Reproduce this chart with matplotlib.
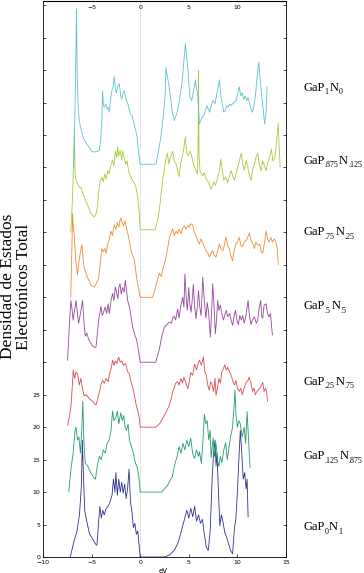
import matplotlib
matplotlib.use('Agg')
import matplotlib.pyplot as plt

# density of states (eV, states) - each curve is later shifted up by 10
e_n1 = [-7.2, -6.8, -6.5, -6.25, -6.05, -5.95, -5.85, -5.7, -5.5, -5.2, -4.9, -4.6, -4.45, -4.3, -4.15, -4.0,
        -3.85, -3.7, -3.5, -3.3, -3.1, -2.9, -2.75, -2.6, -2.5, -2.35, -2.2, -2.05, -1.9, -1.75, -1.6, -1.45,
        -1.3, -1.15, -1.0, -0.85, -0.7, -0.55, -0.4, -0.25, -0.1, 0.0,
        2.5, 3.0, 3.5, 3.9, 4.2, 4.5, 4.8, 5.0, 5.2, 5.4, 5.6, 5.8, 6.0, 6.2, 6.4, 6.6, 6.8, 7.0, 7.2, 7.4,
        7.55, 7.7, 7.8, 7.9, 8.05, 8.2, 8.35, 8.5, 8.7, 8.9, 9.1, 9.3, 9.5, 9.7, 9.85, 10.0, 10.15, 10.3,
        10.45, 10.6, 10.75, 10.9, 11.0, 11.1]
dos_n1 = [0, 2.5, 4, 6.5, 11, 18, 13, 7, 5.5, 3.5, 2.8, 2.0, 1.8, 5, 7.8, 6.0,
          7.2, 6.5, 7.5, 7.8, 8.5, 9.5, 12, 10, 13, 9.5, 12, 10, 11.5, 9.8, 11.2, 9,
          10.5, 13.5, 8.5, 7, 4.5, 5.2, 3.5, 4, 1.5, 0,
          0, 0.3, 1.0, 2.2, 3.8, 5.5, 7.2, 6.0, 7.5, 6.2, 7.8, 5.5, 6.5, 5.2, 5.8, 3.5, 1.5, 1.0, 4, 12,
          16, 18, 14, 16, 10, 4.8, 6.5, 5.5, 3.8, 3.0, 2.0, 1.0, 0.5, 4.5, 6, 10, 15, 19.5,
          16, 12, 13, 10.5, 12, 6.2]

e_n875 = [-7.35, -7.1, -6.9, -6.7, -6.6, -6.45, -6.3, -6.15, -6.0, -5.9, -5.8, -5.65, -5.4, -5.1, -4.8, -4.6,
          -4.4, -4.2, -4.0, -3.8, -3.6, -3.4, -3.2, -3.0, -2.85, -2.7, -2.5, -2.35, -2.2, -2.0, -1.85, -1.7,
          -1.55, -1.4, -1.25, -1.1, -0.9, -0.7, -0.5, -0.3, -0.15, 0.0,
          2.2, 2.8, 3.3, 3.6, 3.8, 4.0, 4.2, 4.4, 4.6, 4.8, 5.0, 5.2, 5.4, 5.6, 5.8, 6.0, 6.1, 6.3, 6.5, 6.6,
          6.75, 6.9, 7.05, 7.2, 7.3, 7.5, 7.65, 7.8, 7.95, 8.1, 8.25, 8.4, 8.6, 8.8, 8.95, 9.1, 9.3, 9.5,
          9.65, 9.75, 9.85, 10.0, 10.15, 10.3, 10.5, 10.7, 10.85, 11.0, 11.15, 11.3]
dos_n875 = [0, 3.9, 6, 9.5, 10, 8, 8.5, 6, 10, 14, 8, 4.5, 4.0, 3.0, 2.3, 2.0,
            4.2, 5.5, 5.0, 6.5, 6.0, 7.5, 8.0, 9.5, 12.5, 11, 11.5, 12.5, 10.5, 12.2, 11, 11.8,
            10, 9.5, 10.5, 8, 7, 6, 4.5, 3.8, 2.5, 0,
            0, 1.0, 2.4, 4.5, 5.5, 7.0, 6.0, 7.5, 6.5, 8.0, 7.0, 8.3, 5.9, 5.2, 6.5, 5.5, 6.2, 4.4, 9, 12,
            10.5, 11, 8, 9.5, 5.3, 8.3, 5.5, 7.5, 5, 3.9, 5.5, 4.5, 6.5, 7.6, 5, 6.5, 8.5, 10,
            13, 15.7, 12, 10, 11, 10.5, 8.5, 10, 7.5, 12.4, 8, 3.8]

e_n75 = [-7.47, -7.3, -7.13, -7.0, -6.89, -6.75, -6.6, -6.44, -6.27, -6.1, -5.95, -5.76, -5.55, -5.3, -5.1, -4.9,
         -4.7, -4.55, -4.4, -4.2, -4.05, -3.87, -3.7, -3.5, -3.3, -3.15, -3.0, -2.84, -2.7, -2.55, -2.4, -2.22,
         -2.05, -1.9, -1.7, -1.5, -1.3, -1.13, -0.95, -0.78, -0.6, -0.44, -0.25, -0.1, 0.0,
         1.6, 1.97, 2.3, 2.65, 2.95, 3.2, 3.35, 3.5, 3.65, 3.85, 4.0, 4.2, 4.35, 4.5, 4.7, 4.9, 5.05, 5.2,
         5.4, 5.6, 5.8, 5.95, 6.1, 6.3, 6.5, 6.65, 6.8, 6.95, 7.1, 7.25, 7.4, 7.55, 7.7, 7.8, 7.95, 8.1,
         8.25, 8.4, 8.55, 8.7, 8.85, 9.0, 9.2, 9.4, 9.55, 9.7, 9.85, 10.0, 10.2, 10.35, 10.5, 10.65, 10.8,
         10.95, 11.1, 11.2, 11.4, 11.55, 11.7, 11.85, 12.0, 12.2, 12.4, 12.6, 12.75, 12.9, 13.0, 13.1]
dos_n75 = [0.3, 1.5, 3.1, 6, 8.8, 7.5, 8.5, 8.2, 6.5, 7.5, 6.0, 4.8, 5, 4.5, 4.2, 4.0,
           3.6, 3.4, 4.2, 5.4, 6.5, 7.2, 6.8, 7.5, 7.0, 8.2, 9.0, 10.3, 9.5, 10.2, 9.8, 10.8,
           10, 10.2, 9.5, 9.8, 8.5, 8.3, 7, 6.2, 5, 3.6, 2.5, 1.5, 0,
           0, 0.5, 1.3, 2.3, 3.2, 4.4, 5.5, 6.0, 6.8, 7.0, 6.5, 7.5, 6.8, 7.7, 6.8, 5.9, 7, 8.4,
           8.0, 9.7, 8.8, 9.8, 10.3, 9.5, 10.8, 8.5, 8.0, 6.5, 5.7, 7.0, 6.5, 5.5, 7.5, 4.9, 6.0, 7.5,
           6.8, 8.5, 9.0, 9.6, 8.8, 9.2, 8.5, 7.8, 7.0, 6.5, 7.2, 6.0, 5.5, 6.0, 5.0, 5.8, 6.5,
           7.0, 7.2, 7.7, 6.8, 5.5, 6.0, 5.0, 5.5, 5.8, 6.2, 6.9, 5.5, 6.0, 5.5, 4.0]

e_n5 = [-7.47, -7.38, -7.3, -7.2, -7.13, -7.0, -6.9, -6.75, -6.6, -6.45, -6.34, -6.15, -5.93, -5.8, -5.65, -5.5,
        -5.3, -5.1, -4.9, -4.7, -4.55, -4.4, -4.28, -4.15, -4.04, -3.9, -3.75, -3.6, -3.45, -3.3, -3.18, -3.0,
        -2.84, -2.7, -2.56, -2.4, -2.3, -2.2, -2.08, -1.95, -1.8, -1.65, -1.54, -1.4, -1.29, -1.1, -0.95,
        -0.78, -0.6, -0.45, -0.37, -0.2, 0.0,
        1.6, 1.97, 2.2, 2.48, 2.75, 3.0, 3.2, 3.35, 3.5, 3.65, 3.85, 4.0, 4.15, 4.37, 4.5, 4.6, 4.75, 4.85,
        5.0, 5.1, 5.23, 5.35, 5.47, 5.6, 5.74, 5.87, 6.0, 6.13, 6.26, 6.35, 6.43, 6.6, 6.75, 6.9, 7.05, 7.22,
        7.35, 7.46, 7.6, 7.73, 7.85, 7.97, 8.1, 8.25, 8.4, 8.56, 8.7, 8.85, 9.0, 9.2, 9.35, 9.5, 9.65, 9.8,
        9.95, 10.1, 10.25, 10.4, 10.55, 10.7, 10.85, 11.1, 11.25, 11.4, 11.55, 11.75, 11.95, 12.1, 12.25,
        12.4, 12.5, 12.6, 12.75, 12.95, 13.1, 13.25, 13.4, 13.6]
dos_n5 = [0.3, 3, 5.5, 8, 9.5, 8, 6.5, 8, 9.5, 7.5, 6, 7.5, 9.5, 6.5, 4, 4.5,
          3.5, 3.0, 2.5, 2.3, 2.3, 4.5, 6.5, 7.5, 8.6, 7.2, 7.8, 8.5, 7.5, 9, 7.5, 9.5,
          10.6, 9.5, 11.6, 10.5, 9.8, 11.5, 12.1, 10.5, 11.5, 10.8, 12.6, 11, 9.5, 8.5, 7,
          5.5, 4.4, 3.8, 3.4, 2, 0,
          0, 2, 3.8, 5.4, 5.8, 6.2, 6.0, 6.8, 7.1, 6.5, 8.2, 6.8, 8.5, 10, 8.5, 13.6, 9.5, 8.0,
          11.5, 9, 7.7, 9.5, 12, 8.5, 6.7, 8.5, 11, 8.5, 7.2, 10, 13.1, 9.5, 6.8, 9.2, 7.5, 3.9,
          8, 12.1, 8.5, 4.4, 6.5, 9.5, 8.0, 8.8, 7.5, 6.5, 7.2, 8.0, 7.0, 7.5, 6.5, 5.7, 7.0, 8.0,
          6.5, 5.8, 7.2, 6.5, 7.2, 6.0, 7.0, 9.5, 7.0, 5.8, 6.5, 7.0, 6.0, 6.5, 8.5,
          9.5, 7.0, 6.8, 8.8, 9.0, 7.5, 7.0, 7.5, 4.2]

e_n25 = [-7.15, -7.05, -6.96, -6.88, -6.79, -6.65, -6.45, -6.3, -6.15, -6.0, -5.88, -5.76, -5.6, -5.41, -5.25,
         -5.07, -4.9, -4.73, -4.5, -4.28, -4.1, -3.94, -3.8, -3.65, -3.5, -3.35, -3.2, -3.01, -2.85, -2.67,
         -2.5, -2.35, -2.2, -2.08, -1.98, -1.85, -1.7, -1.55, -1.4, -1.29, -1.1, -0.95, -0.78, -0.6, -0.45,
         -0.37, -0.2, 0.0,
         1.28, 1.6, 1.8, 1.97, 2.15, 2.3, 2.5, 2.65, 2.85, 3.0, 3.2, 3.35, 3.5, 3.7, 3.85, 4.0, 4.2, 4.37,
         4.55, 4.7, 4.9, 5.05, 5.2, 5.4, 5.55, 5.74, 5.9, 6.09, 6.25, 6.4, 6.6, 6.78, 6.95, 7.12, 7.3, 7.45,
         7.6, 7.8, 7.95, 8.15, 8.3, 8.5, 8.65, 8.83, 9.0, 9.15, 9.3, 9.5, 9.65, 9.85, 10.0, 10.2, 10.35,
         10.5, 10.7, 10.9, 11.05, 11.24, 11.4, 11.6, 11.75, 11.9, 12.1, 12.3, 12.45, 12.6, 12.8, 12.95,
         13.1, 13.25, 13.45, 13.6, 13.8, 13.97, 14.1, 14.2]
dos_n25 = [0, 6, 12.9, 10.5, 9.7, 6, 3.5, 5.5, 7, 8.1, 6, 4.5, 3.8, 3.0, 2.5,
           1.8, 1.7, 1.6, 2.2, 2.9, 5.5, 7.5, 7.0, 7.5, 6.8, 8.2, 8.8, 10.2, 9.5, 11.2,
           10.5, 11.5, 10.8, 11.8, 12.2, 11.5, 11.0, 11.8, 10.5, 10.0, 8.5, 7.3, 6.5, 5.8, 4,
           3.0, 1.5, 0,
           0, 1.7, 2.8, 3.7, 3.2, 4.2, 5.2, 6.2, 7.8, 9.2, 10, 10.5, 9.5, 10.2, 9.8, 10.5, 9.8, 10.7,
           11, 10.5, 11, 10.8, 11.3, 11.2, 10, 9.5, 8.8, 8.2, 9.0, 8.5, 7.8, 7.2, 6.8, 6.2, 6.8, 7.2,
           6.5, 6.2, 7.0, 8.2, 7.5, 7.2, 8.0, 9.3, 8.0, 7.5, 6.5, 5.6, 7.0, 8.2, 8.5, 9.2, 8.0,
           7.8, 8.5, 8.7, 9.2, 9.9, 8.8, 8.2, 7.5, 8.5, 8.0, 8.2, 7.0, 6.8, 8.5, 10.2,
           9.0, 8.5, 9.2, 8.5, 9.0, 8.5, 7.5, 5.0]

e_n125 = [-7.15, -7.05, -6.95, -6.85, -6.78, -6.7, -6.6, -6.45, -6.3, -6.1, -5.9, -5.7, -5.5, -5.3, -5.1, -4.9,
          -4.73, -4.55, -4.4, -4.25, -4.1, -3.95, -3.8, -3.65, -3.5, -3.35, -3.2, -3.0, -2.84, -2.7, -2.55,
          -2.4, -2.33, -2.2, -2.05, -1.9, -1.8, -1.65, -1.5, -1.35, -1.2, -1.13, -0.95, -0.8, -0.6, -0.45,
          -0.26, -0.1, 0.0,
          1.55, 1.8, 1.97, 2.2, 2.35, 2.48, 2.6, 2.8, 2.95, 3.1, 3.35, 3.5, 3.7, 3.85, 4.0, 4.15, 4.3, 4.45,
          4.65, 4.8, 4.95, 5.1, 5.25, 5.4, 5.57, 5.75, 5.9, 5.97, 6.0, 6.05, 6.15, 6.3, 6.43, 6.6, 6.8, 7.04,
          7.15, 7.29, 7.45, 7.6, 7.75, 7.97, 8.15, 8.3, 8.45, 8.6, 8.8, 9.0, 9.15, 9.35, 9.5, 9.7, 9.85,
          10.0, 10.2, 10.4, 10.55, 10.7, 10.9, 11.05, 11.2, 11.4, 11.55, 11.75, 11.9, 12.1, 12.25, 12.45,
          12.6, 12.8, 12.95, 13.1, 13.3, 13.5, 13.65, 13.85, 14.0, 14.2, 14.3, 14.4]
dos_n125 = [0, 2.5, 6, 11, 16, 9, 8, 7.5, 7.0, 6.9, 6.0, 5.2, 4.5, 3.8, 3.0, 2.6,
            2.4, 2.8, 4, 6.5, 8.0, 8.5, 7.8, 9.0, 8.2, 9.5, 9.0, 10.5, 11.1, 10.2, 12.5,
            11.5, 13.2, 11.8, 12.6, 11.2, 12.6, 11.5, 10.5, 11, 9.5, 9.1, 8.5, 8, 7.6, 7,
            5.5, 3, 0.4,
            0.4, 2.0, 3.5, 6.5, 8.5, 9.6, 11, 12.2, 10.5, 11.5, 12.5, 11.0, 10.5, 9.5, 8.6, 10.5, 11.5, 12.5,
            14.7, 12, 11.8, 12.5, 12, 11, 10.1, 9.5, 9.0, 15, 24.9, 12, 9.5, 9.0, 8.7, 9.2, 8.2, 7.7,
            7.2, 6.6, 7.2, 7.8, 7.2, 8.5, 9.5, 11.3, 9.5, 8.0, 8.5, 7.7, 8.5, 9.5, 8.8, 8.0, 9.0,
            9.8, 11.0, 12.2, 10.5, 9.6, 11, 10.2, 9.0, 8.0, 9.5, 10.5, 11.5, 12.2, 10.5, 9.5,
            11, 10.2, 9.5, 10.5, 11.5, 12.8, 11, 11.5, 13.5, 16.8, 13, 10.1]

e_n0 = [-6.85, -6.75, -6.65, -6.55, -6.48, -6.4, -6.27, -6.1, -5.9, -5.76, -5.5, -5.24, -5.05, -4.9, -4.6, -4.35,
        -4.2, -4.05, -3.95, -3.87, -3.78, -3.7, -3.55, -3.4, -3.3, -3.18, -3.05, -2.9, -2.78, -2.67, -2.55,
        -2.45, -2.3, -2.15, -2.0, -1.9, -1.75, -1.64, -1.5, -1.35, -1.2, -1.13, -1.0, -0.85, -0.78, -0.6,
        -0.44, -0.3, -0.15, 0.0,
        1.63, 1.8, 1.97, 2.15, 2.3, 2.45, 2.58, 2.65, 2.8, 2.93, 3.05, 3.17, 3.3, 3.5, 3.7, 3.85, 4.0, 4.15,
        4.3, 4.37, 4.5, 4.65, 4.78, 4.9, 5.0, 5.12, 5.3, 5.45, 5.6, 5.67, 5.8, 5.9, 6.0, 6.09, 6.25, 6.4,
        6.55, 6.7, 6.85, 7.0, 7.15, 7.3, 7.5, 7.7, 7.9, 8.05, 8.15, 8.3, 8.45, 8.6, 8.75, 8.9, 9.05, 9.2,
        9.35, 9.5, 9.65, 9.87, 10.0, 10.2, 10.35, 10.5, 10.65, 10.8, 10.95, 11.1, 11.25, 11.4, 11.55, 11.7,
        11.85, 12.0, 12.2, 12.35, 12.5, 12.65, 12.8, 12.95, 13.05]
dos_n0 = [0, 5, 14, 24.4, 14, 10, 7.2, 6, 4.8, 4.2, 3.6, 3.1, 2.6, 2.4, 2.4, 2.5,
          2.6, 4.5, 7.2, 11.8, 9.5, 9.3, 9.8, 9.0, 9.3, 8.5, 10.5, 11.9, 12.5, 14, 12.0,
          11.5, 12.5, 12.9, 11, 10.5, 11.5, 11.8, 10.8, 10.0, 9.5, 8.8, 8.2, 8.0, 7.6, 6.5,
          5.6, 4.5, 2.0, 0.5,
          0.5, 2.0, 3.3, 5.0, 6.9, 9.0, 11.5, 15.4, 14, 12.9, 11.5, 10.3, 8.5, 7.2, 8.0, 8.8, 10.0, 11.5,
          13, 14, 16.5, 19.1, 17, 15.4, 13, 10.8, 10.3, 11.5, 12.5, 13.5, 12, 11.5, 9, 6.7, 7.2, 7.8,
          8.0, 8.8, 9.5, 9.0, 8.5, 9.5, 10.3, 9.8, 11.5, 12.5, 13.5, 11.0, 9.8, 8.5, 8.8, 9.5, 9.3, 9.8,
          9.5, 9.8, 10.0, 10.3, 11.2, 12.4, 11.0, 11.5, 10.5, 11.0, 10.3, 10.8, 9.8, 9.0, 8.5, 9.5,
          11.0, 13.5, 16.2, 13.5, 11.0, 9.0, 6.7, 8.5, 12.4]

energies = [e_n1, e_n875, e_n75, e_n5, e_n25, e_n125, e_n0]
dos = [dos_n1, dos_n875, dos_n75, dos_n5, dos_n25, dos_n125, dos_n0]
# (P fraction, N fraction) subscripts of each GaP_xN_y label
p_sub = ['0', '.125', '.25', '.5', '.75', '.875', '1']
n_sub = ['1', '.875', '.75', '.5', '.25', '.125', '0']
colors = ['#2e3190', '#1f9e6c', '#e2474a', '#93479c', '#f08c33', '#a6c93c', '#5cc3cc']
label_y = [4.6, 15.5, 27, 38.6, 50, 61, 72.3]
offset = 10

fig = plt.figure(figsize=(3.64, 5.73), dpi=100)
ax = fig.add_axes([43 / 364, 1 - 557 / 573, 243 / 364, 557 / 573 - 0.001])

ax.axvline(0, color='#a8b4c8', ls=(0, (1, 1.5)), lw=0.6, zorder=0)

serif = 'Liberation Serif'
for i, (e, d) in enumerate(zip(energies, dos)):
    shifted = [v + offset * i for v in d]
    ax.plot(e, shifted, color=colors[i], lw=0.6)

    # label built piece by piece so the subscripts can be small
    t = ax.text(1.07, label_y[i], 'GaP', transform=ax.get_yaxis_transform(),
                fontsize=9, family=serif, va='center', ha='left', clip_on=False)
    s1 = ax.annotate(p_sub[i], xy=(1, 0), xycoords=t, xytext=(0.3, -1.8), textcoords='offset points',
                     fontsize=5.8, family=serif, va='bottom', ha='left', annotation_clip=False)
    n = ax.annotate('N', xy=(1, 0), xycoords=s1, xytext=(0.3, 1.8), textcoords='offset points',
                    fontsize=9, family=serif, va='bottom', ha='left', annotation_clip=False)
    ax.annotate(n_sub[i], xy=(1, 0), xycoords=n, xytext=(0.3, -1.8), textcoords='offset points',
                fontsize=5.8, family=serif, va='bottom', ha='left', annotation_clip=False)

ax.set_xlim(-10, 15)
ax.set_ylim(0, 85.7)
ax.set_xticks([-10, -5, 0, 5, 10, 15])
yt = list(range(0, 86, 5))
ax.set_yticks(yt)
ax.set_yticklabels([str(v) if v <= 25 else '' for v in yt])
ax.tick_params(direction='in', length=2.5, width=0.5, labelsize=4.5, right=True, pad=2)
for s in ax.spines.values():
    s.set_linewidth(0.6)

top = ax.secondary_xaxis('top')
top.set_xticks([-5, 0, 5, 10])
top.tick_params(direction='in', length=0, labelsize=4.5, pad=-7)

fig.text(0.448, 0.004, 'eV', fontsize=5, ha='center', va='center')
fig.text(0.045, 0.50, 'Densidad de Estados\nElectrónicos Total', rotation=90, fontsize=12.5,
         family=serif, ha='center', va='center', linespacing=1.0)

fig.savefig('out.png', dpi=100)
